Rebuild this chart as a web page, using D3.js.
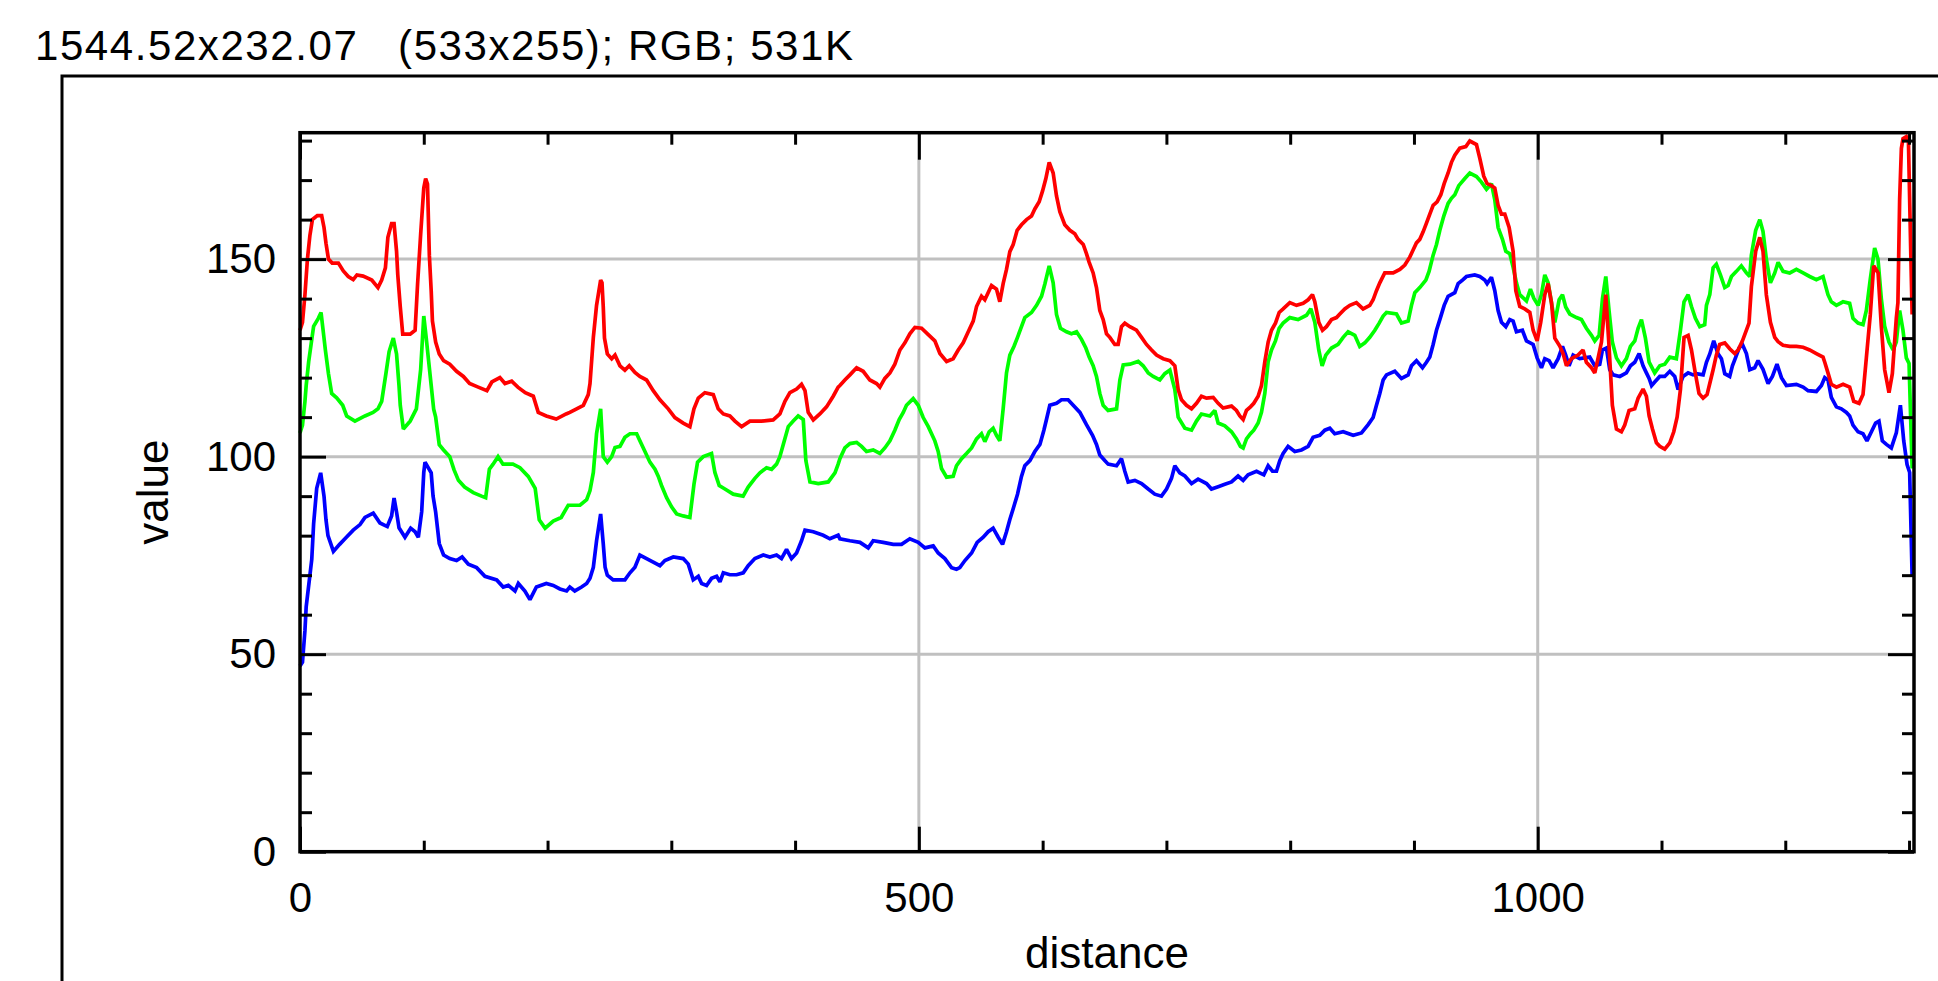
<!DOCTYPE html>
<html>
<head>
<meta charset="utf-8">
<script src="https://cdn.jsdelivr.net/npm/d3@7"></script>
<style>
  html, body { margin: 0; padding: 0; background: #ffffff; }
  svg { display: block; }
  text { font-family: "Liberation Sans", Arial, sans-serif; fill: #000; }
</style>
</head>
<body>
<svg id="chart" width="1938" height="981"></svg>
<script>
// Profile plot of the red, green and blue channels along a line.
const headerText = "1544.52x232.07   (533x255); RGB; 531K";
const xLabel = "distance";
const yLabel = "value";

const xMajorTicks = [0, 500, 1000];
const xMinorTicks = [100, 200, 300, 400, 600, 700, 800, 900, 1100, 1200, 1300];
const yMajorTicks = [0, 50, 100, 150];
const yMinorTicks = [10, 20, 30, 40, 60, 70, 80, 90, 110, 120, 130, 140, 160, 170, 180];
const xDomain = [0, 1304];
const yDomain = [0, 182];

// [distance, value]
const redProfile = [
  [0,132],[2,134],[4,141],[6,150],[8,156],[10,160],[14,161],[17.5,161],[19.4,158],[21,154],[23,150],[26,149],[31,149],[35,147],[39,145.6],[43,144.8],[46,146],[51,145.7],[58,144.7],[63,142.8],[66,144.7],[69,147.8],[71,155.5],[74,159],[76,159],[78,152],[79,146],[81,138],[83,131],[89,131],[93,132],[95,143.7],[97.5,156.4],[100,168],[101.5,170.4],[103,169],[104.5,151],[106,142],[107,134.3],[109.6,129],[112.5,126],[116,124.3],[121,123.4],[126.5,121.6],[132,120.3],[137,118.5],[144,117.6],[151,116.7],[155,118.9],[161.5,120],[165.6,118.5],[171,119.1],[176,117.6],[182,116.2],[188.5,115.3],[192.5,111.2],[199,110.3],[207,109.5],[215,110.8],
  [218,111.2],[223.5,112.1],[228.9,113],[232.9,115.7],[234.3,118.5],[237,130.2],[239.6,138.3],[242.9,144.7],[244,144],[245,138],[246,130],[248.3,126],[251.8,124.8],[254.5,125.7],[258.5,123],[262.5,121.9],[266,123],[270.6,121.3],[274.6,120.3],[280,119.4],[285.4,116.7],[290.8,114.4],[297.5,112.1],[302.9,109.9],[309.6,108.5],[315,107.6],[318.3,112.1],[321.8,114.8],[327.1,116.2],[333.9,115.7],[337.9,112.1],[342,110.8],[347.3,110.3],[351.4,109],[356.8,107.6],[363.5,109],[372.9,109],[382.3,109.3],[387.7,110.8],[391.8,114],[395.8,116.2],[401.2,117.1],[405.2,118.3],[408,116.7],[410.6,111.2],[414.7,109.3],[420,110.8],[425.4,112.6],[430.8,115.3],[434.8,117.6],
  [436.2,118],[440.2,119.4],[444.3,120.7],[449.7,122.5],[455,121.6],[460.4,119.4],[465.8,118.5],[468.5,117.6],[472.5,119.8],[476.6,121.2],[480.6,123.4],[484.7,127],[488.7,128.8],[492.7,131.1],[496.8,132.7],[502.2,132.5],[507.6,130.9],[512.9,129.3],[517,126.1],[522.4,124.1],[527.7,124.8],[531.8,127],[535.8,128.8],[539.9,131.6],[543.9,134.3],[546.6,138],[550.6,140.6],[553.3,139.7],[558.7,143.3],[562.7,142.4],[565.4,139.2],[568.1,143.8],[570.8,147.4],[573.5,151.9],[576.2,153.7],[579.4,157.3],[582.9,158.7],[587,160],[591,160.9],[593.7,162.7],[597.2,164.5],[599.9,167.2],[602.6,170.4],[605.3,174.5],[608.5,171.8],[611.2,166],[613.9,162],[617.9,158.7],[622,157.3],[626,156.4],[628.7,155],[632.8,153.7],[635.4,151.4],[637.6,149.2],[640.8,146.5],[643.5,142.8],[646.2,137],[648.9,134.7],[651.6,131.1],
  [654.3,130.2],[658.3,128.4],[661,128.4],[663.7,132.9],[666.4,133.8],[670.5,132.9],[675.8,132],[679.9,130.2],[683.9,128.4],[688,127],[692,125.7],[697.4,124.8],[702.8,124.3],[706.8,123],[709.5,117],[712.2,114.4],[716.2,113],[720.3,112.1],[724.3,113.5],[728.3,115.3],[732.4,114.8],[737.8,115],[741.8,113.5],[745.8,112.3],[752.6,112.8],[756.6,111.7],[759.3,110.3],[762,109.4],[764.7,111.7],[767.9,112.6],[770.6,113.5],[774.1,115.3],[776.8,118],[779.5,124],[782.2,129],[784.9,132],[788.1,133.8],[791.1,136.5],[794.3,137.4],[799.7,139],[805.1,138.3],[810.5,138.8],[814.5,139.7],[818,141],[819.9,139.2],[823.1,134],[826.1,132],[829.3,132.9],[833.4,134.7],[837.4,135.2],[840.1,136.1],[844.1,137.4],[848.2,138.3],[853.5,139],[858.9,137.4],[864.3,138.3],[867,139.7],[869.7,142],[872.4,144],
  [876.4,146.5],[883.2,146.5],[888.6,147.4],[892.6,148.5],[896.6,150.5],[899.3,152.3],[902,154.1],[904.7,155],[907.4,156.9],[910.1,159.1],[912.8,161.4],[915.5,163.6],[918.7,164.5],[921.7,166.3],[924.4,169.1],[927.6,171.8],[930.3,174.5],[933,176.3],[937,178.1],[941.9,178.5],[945.1,179.9],[950.5,179],[953.2,175.5],[956.4,171],[959.1,169.1],[962.6,168.6],[965.3,168],[968,163.6],[970.7,161.4],[973.4,161.4],[976.9,158],[980.1,152],[982.3,142],[985.5,138],[989.5,137.4],[993.6,136.5],[996.3,132],[999.5,129.3],[1002.4,134],[1005.7,141],[1008.4,143.8],[1011.1,139],[1013.8,130],[1017.8,128],[1020.5,126.1],[1023.2,123],[1027.2,124.8],[1032.6,125.7],[1036.6,127],[1039.3,123.9],[1043.4,122.5],[1046.1,121.2],[1048.8,125],[1051.5,129],[1055,141],[1057.6,128],[1060.3,113],[1063.6,107],[1067.6,106.3],[1070.3,108],[1073.8,111.7],[1078.4,112.1],[1081.1,114.8],[1085.1,117.1],[1087.8,115.3],[1090,110.3],
  [1092.7,107],[1095.9,103.5],[1098.6,102.6],[1102.6,101.9],[1106.7,103.5],[1109.9,106.3],[1112.6,110],[1115.3,117],[1118.2,130.2],[1121.5,130.7],[1124.2,127],[1127.4,121],[1130.3,116],[1133.6,114.8],[1136.8,115.7],[1139,118.5],[1141.7,122],[1144.3,125.7],[1147,128.4],[1151.1,128.8],[1155.1,127.3],[1159.2,126.1],[1161.9,127],[1165.4,129.3],[1168.6,132],[1170.7,133.8],[1172.6,143],[1176.1,152],[1179.4,155.5],[1182,152],[1184.7,141],[1188,134],[1191.5,130.2],[1194.2,129.1],[1198.2,128.2],[1203.6,127.9],[1209,127.9],[1214.4,127.7],[1219.7,127],[1225.1,126.1],[1230.5,125.2],[1231.9,123.9],[1234.5,121.2],[1237.2,118.3],[1241.3,117.6],[1246.7,118.3],[1252,117.6],[1255.3,114],[1259.6,113.5],[1262.8,115.7],[1265.5,125],[1268.7,136],[1271.4,148.3],[1275,146.5],[1277.6,133],[1280.3,122],[1283.8,116.2],[1286.5,121],[1289.7,135],[1291,139],[1292.4,165],[1293.8,178],[1295.1,180.5],[1297.8,181],[1299.5,180],[1301.5,150],[1302.5,136]
];

const greenProfile = [
  [0,106],[2,108],[4,114],[5,118],[7,124],[9,128.5],[11,133],[14.8,135],[17,136.5],[19.4,130],[20.5,127],[23,121],[25.6,116],[29.6,114.9],[34.5,113],[37.7,110.3],[44.4,109],[52.5,110.3],[59,111.2],[63,112.1],[66,114],[69.5,121.2],[72,126.6],[75.4,130],[78,126],[80,118],[81,113],[83.5,107],[89,109],[94,112.1],[97.5,122.1],[100,135.6],[102,130],[104,124],[106,118],[108,112],[109.6,110],[112.5,103],[116,101.7],[121,100],[124.4,96.7],[128,94],[133,92.3],[140,90.9],[146.7,90],[150,89.6],[153,96.8],[156,98.1],[160,100],[164,98.1],[172,98.1],[177.7,97.2],[184.4,95],[190,92],[193.3,84],[198,81.9],[204.6,83.7],[211,84.6],[216.7,87.7],
  [226.2,87.7],[231.6,89.1],[234.3,91.4],[237,96],[239.6,105.8],[242.9,112.1],[245,100],[248.3,98.6],[251.8,100],[254.5,102.3],[258.5,102.6],[262.5,104.9],[266.6,105.8],[272,105.8],[274.6,104],[278.7,101.3],[282.7,98.6],[286.8,96.8],[289.5,95],[292.1,92.7],[296.2,89.6],[300.2,87.3],[304.3,85.5],[309.6,85],[315,84.6],[318.3,93],[321.2,98.6],[325.8,100],[332.5,100.8],[335.2,96],[338.7,92.7],[343.3,91.8],[350,90.5],[358,90],[362.1,92.3],[367.5,94.5],[371.6,95.9],[376.9,97.2],[381,96.8],[385,98.1],[387.7,100],[390.4,103],[394.5,107.6],[398.5,109],[402.5,110.3],[406.6,109.4],[408.7,99],[412,93.6],[418.7,93.2],[426.8,93.6],[432.2,95.9],[434.8,98.1],
  [436.2,99.5],[440.2,102.2],[444.3,103.3],[449.7,103.6],[453.7,102.6],[457.7,101.3],[463.1,101.7],[468.5,100.8],[472.5,102.2],[476.6,104],[480.6,106.7],[484.1,109.4],[487.4,111.2],[490,113],[495.4,114.7],[499.5,113],[503.5,109.9],[507.6,107.6],[512.9,104],[515.6,101.3],[518.3,97],[522.4,94.8],[527.7,95],[530.4,97.7],[534.5,99.5],[538.5,100.8],[542.6,102.2],[546.6,104.5],[550.6,105.8],[553.3,103.8],[556.8,106.3],[560,107.2],[562.7,105.4],[565.4,104],[568.1,112.1],[570.8,121.2],[573.5,125.7],[576.8,127.9],[579.7,130.2],[582.9,132.9],[585.6,135.2],[591,136.5],[595.1,138.3],[599.1,140.6],[601.8,143.7],[605.3,148.3],[608.5,144],[611.2,136],[614.4,132.5],[619.3,131.6],[623.3,131.1],[627.4,131.6],[631.4,129.7],[634.9,127.5],[637.6,125.2],[640.8,123],[643.5,120.3],[646.2,116],[648.9,113],[652.9,111.7],
  [659.7,112.1],[662.4,119.4],[665.1,123.2],[670.5,123.4],[677.2,124.1],[681.2,123],[685.3,121.2],[689.3,120.3],[694.7,119.4],[698.7,121],[702.8,121.9],[706.8,117],[709.5,110],[714.9,107.2],[720.3,106.7],[724.3,109],[728.3,110.8],[735.1,110.3],[739.1,111.7],[741.8,108.5],[747.2,107.8],[752.6,106.3],[756.6,104.5],[759.8,102.6],[762,102.2],[764.7,104.5],[767.9,105.8],[770.6,106.7],[774.1,108.5],[776.8,111.2],[779.5,116],[782.2,124],[784.9,127],[788.1,129.3],[791.1,132.5],[794.3,133.8],[799.7,135.2],[806.4,134.7],[813.2,135.8],[816.7,137.4],[819.9,134],[823.1,127],[825.8,123],[828.8,125.7],[833.4,127.5],[838.7,128.4],[842.8,130.2],[846.8,131.6],[852.2,130.7],[856.2,127.9],[860.3,128.8],[864.3,130.2],[868.4,132],[871.9,133.8],
  [875.1,135.6],[877.8,136.5],[885.9,136.1],[889.9,133.8],[895.3,134.3],[898,138.3],[900.7,141.5],[904.7,142.8],[909.6,144.7],[912.2,146.9],[915.5,151],[918.2,153.7],[920.9,157.3],[924.1,160.9],[927.6,164.1],[930.3,165.4],[933,166.3],[936.2,168.6],[941.1,170.4],[945.1,171.8],[950.5,170.9],[954.5,169.5],[958.6,167.7],[962.6,169.1],[965.3,165],[968,158],[971.5,155],[974.2,152],[977.4,151.4],[980.1,148],[982.8,144],[985.5,141],[990.9,139.4],[994.1,142.4],[996.8,140.1],[1000.3,138.3],[1003,141],[1005.7,146],[1008.4,144],[1011.1,139],[1013.8,134],[1017.3,139.7],[1020,141],[1022.6,137.9],[1025.9,136.1],[1031.3,135.2],[1035.3,134.7],[1039.3,132.5],[1043.4,130.7],[1046.1,129.3],[1049.6,130.7],[1052.3,140],[1055,145.6],[1057.6,137],[1060.3,129],[1063.6,125],[1067.6,123],[1071.6,124.8],[1074.9,127.9],[1078.4,129.3],[1081.1,132.5],[1083.8,134.7],[1087,130],[1090,123.9],
  [1094.5,121.2],[1098.6,123],[1102.6,123.4],[1106.7,125.2],[1112,124.8],[1115.3,132],[1118.2,139.2],[1121.5,141],[1124.2,138],[1127.4,135],[1130.9,132.9],[1134.9,133.4],[1136.3,138.3],[1139,141],[1141.7,147.8],[1144.3,148.7],[1147.6,146],[1151.1,142.8],[1153.8,143.3],[1156.5,145.6],[1160.5,146.9],[1164.5,148.3],[1168.6,146.5],[1171.3,145.6],[1172.6,151],[1176.1,157.3],[1179.4,160],[1182,157],[1184.7,150],[1188,144],[1191.5,146.5],[1194.2,149.2],[1198.2,146.9],[1203.6,146.5],[1209,147.4],[1214.4,146.5],[1219.7,145.6],[1225.1,144.8],[1230.5,145.6],[1234.5,141],[1237.2,139.2],[1241.3,138.3],[1246.7,139.2],[1252,138.8],[1254.7,135],[1258.8,133.8],[1262.8,133.4],[1265.5,137],[1268.7,145],[1272.2,152.8],[1274.9,150],[1277.6,140],[1280.3,133],[1283.8,129],[1287.1,127],[1289.7,129],[1292.4,137],[1295.1,132],[1297.8,125],[1300,123.6],[1302.5,97]
];

const blueProfile = [
  [0,47],[2,48],[4,56],[5,62],[8,70],[9.5,74],[11,83],[13.5,92],[16.7,95.9],[19.4,90],[21,84],[22.6,80],[27,76],[32,77.8],[36.3,79.2],[43,81.4],[48.5,82.8],[52.5,84.6],[59.2,85.7],[64.6,83.2],[70.5,82.3],[74,85],[76,89.5],[78,86],[80,82],[84.8,79.6],[89.4,81.9],[93,81],[95.6,79.6],[98.3,86],[100,96],[101,98.6],[106,95.9],[107.5,90],[109.6,86],[112.5,78],[116,75.1],[121,74.2],[126.5,73.7],[131,74.6],[136,72.8],[142.7,71.9],[149.4,69.7],[158.9,68.8],[164.2,67],[168.3,67.4],[173.7,66],[176.4,67.9],[181.7,66],[185.8,63.8],[191,67],[199,67.9],[204.6,67.4],[210,66.5],[215.4,66],
  [218,67],[222,66],[227.5,67],[231.6,67.9],[234.3,69.2],[237,72],[239.6,78.7],[242.9,85.5],[245,78],[246.5,72],[248.3,70],[253,68.8],[262.5,68.8],[266.6,70.6],[270.6,72],[274.6,75.1],[280,74.2],[285.4,73.3],[290.8,72.4],[294.8,73.7],[301.6,74.6],[309.6,74.2],[313.7,72.8],[317.7,68.8],[321.8,69.7],[324.5,67.9],[328.5,67.4],[332.5,69.2],[336.6,69.7],[339.3,68.3],[342,70.6],[347.3,70.1],[352.7,70.1],[358.1,70.6],[362.1,72.4],[367.5,74.2],[374.3,75.1],[379.6,74.6],[385,75.1],[389,74.2],[393.1,76.5],[397.1,74.2],[401.2,75.6],[405.2,78.7],[408,81.4],[414.7,81],[422.7,80.1],[428.1,79.2],[434.8,80.1],
  [436.2,79.2],[444.3,78.7],[452.4,78.3],[459.1,76.9],[463.1,78.7],[471.2,78.3],[479.3,77.8],[486,77.8],[492.7,79.2],[499.5,78.3],[504.9,76.9],[511.6,77.4],[515.6,75.6],[521,74.2],[526.4,71.9],[530.4,71.5],[533.1,71.9],[537.2,73.7],[542.6,75.6],[547.1,78.3],[552,79.6],[556,81],[560,81.9],[564.1,79.6],[567.6,77.8],[570.8,81],[573.5,84.1],[576.2,86.8],[579.7,90.5],[582.9,95],[585.6,97.7],[589.7,99],[593.7,101.3],[597.8,103.1],[601,106.7],[603.1,109.4],[605.8,113],[611.2,113.5],[615.2,114.4],[620.6,114.4],[624.7,113],[630.1,111.2],[635.4,108.1],[640.3,105.4],[643.5,103.1],[646.2,100.4],[650.2,99],[652.9,98.1],
  [659.7,97.7],[663.7,99.5],[666.4,96.3],[669.1,93.6],[674.5,94],[679.9,93.2],[685.3,91.8],[690.6,90.5],[696,90],[700.1,91.8],[704.1,94.5],[706.8,97.7],[710.8,95.9],[714.9,95.1],[720.3,93.2],[725.6,94.3],[732.4,93.2],[736.4,91.8],[741.8,92.4],[747.2,93],[752.6,93.6],[757.9,95.1],[762,94],[766,95.4],[772.8,96.3],[778.7,95.4],[782.2,97.7],[785.7,96.3],[788.9,96.3],[791.6,99],[794.3,100.8],[798.3,102.6],[803.7,101.3],[809.1,101.7],[814.5,102.6],[818.5,104.9],[823.9,105.4],[828,106.7],[832,107.2],[836,105.8],[842.8,106.3],[850.9,105.4],[857.6,106],[863,108.1],[867,109.9],[869.7,113],[872.4,116],
  [875.1,119.4],[877.8,120.7],[884.5,121.6],[889.9,119.8],[895.3,120.7],[898,123],[902,124.3],[906.9,122.5],[910.1,123.9],[912.8,125.2],[915.5,128.4],[918.2,132],[921.4,135.2],[924.4,138.3],[927.6,140.6],[933,141.5],[935.7,143.8],[939.2,144.7],[942.4,145.6],[949.1,146],[953.2,145.6],[957.2,144.7],[959.1,143.8],[962.6,145.4],[965.3,142],[968,137],[970.7,134],[974.2,132.9],[977.4,134.7],[980.1,134.3],[982.8,131.6],[987.6,132],[990.9,129.3],[996.3,128.4],[999.5,125],[1003,122.5],[1005.7,124.8],[1009.2,124.3],[1012.4,122.5],[1016.5,124.8],[1020,127.9],[1022.6,125.7],[1025.3,123],[1028.6,125.7],[1033.9,124.8],[1042,125.2],[1046.1,123],[1050.1,123.4],[1052.3,127],[1055.5,127.5],[1058.2,122],[1060.9,120.7],[1066.3,120.3],[1071.6,121.2],[1074.9,123],[1078.4,123.9],[1081.9,126.1],[1085.1,123],[1087.8,121.2],[1090,119.8],
  [1092,118],[1094.5,118.9],[1098.6,120.3],[1102.6,120.3],[1106.7,121.6],[1110.7,120.3],[1113.4,117],[1117.4,120.3],[1121.5,121.2],[1125.5,120.7],[1128.2,121],[1133.6,120.7],[1136.3,123.9],[1139,126],[1142.2,129.3],[1145.7,126],[1148.4,124.8],[1151.1,121],[1155.1,120.3],[1157.3,123],[1160,125.2],[1162.7,127.5],[1165.4,128.4],[1168.6,126.1],[1171.3,122],[1175.3,122.5],[1178,124.3],[1182,122.1],[1186.1,118.5],[1189.6,120.3],[1193.3,123.4],[1196.9,120],[1200.9,118],[1209,118.3],[1214.4,117.6],[1218.4,116.7],[1225.1,116.5],[1229.2,118],[1231.9,120],[1234.5,119.4],[1237.2,115],[1241.3,112.6],[1245.3,112.1],[1249.4,111.2],[1252,110.3],[1254.7,108],[1258.8,106.3],[1262.8,105.8],[1266,104],[1269.6,106.3],[1273,108.5],[1275.7,109],[1278.4,104],[1281.7,103.1],[1285.7,102.2],[1289.7,106],[1293,113],[1295.7,104],[1298.4,98],[1300.5,96],[1302.5,69.6]
];

const seriesList = [
  { name: "blue",  color: "#0000ff", values: blueProfile },
  { name: "green", color: "#00ff00", values: greenProfile },
  { name: "red",   color: "#ff0000", values: redProfile }
];

const svg = d3.select("#chart");
const plot = { left: 300, right: 1914, top: 132.7, bottom: 851.7 };

const x = d3.scaleLinear().domain(xDomain).range([plot.left, plot.right]);
const y = d3.scaleLinear().domain(yDomain).range([plot.bottom, plot.top]);

svg.append("rect").attr("width", 1938).attr("height", 981).attr("fill", "#ffffff");

// outer window frame
svg.append("path")
  .attr("d", "M62,1000 L62,76 L2000,76")
  .attr("fill", "none").attr("stroke", "#000").attr("stroke-width", 3);

// header line (spaces kept as typed)
svg.append("text")
  .attr("x", 35).attr("y", 60)
  .attr("font-size", 42)
  .attr("xml:space", "preserve")
  .style("white-space", "pre")
  .attr("textLength", 818)
  .attr("lengthAdjust", "spacing")
  .text(headerText);

// grid
const grid = svg.append("g");
grid.selectAll("line.h").data([50, 100, 150]).join("line")
  .attr("x1", plot.left).attr("x2", plot.right)
  .attr("y1", d => y(d)).attr("y2", d => y(d))
  .attr("stroke", "#c0c0c0").attr("stroke-width", 3);
grid.selectAll("line.v").data([500, 1000]).join("line")
  .attr("x1", d => x(d)).attr("x2", d => x(d))
  .attr("y1", plot.top).attr("y2", plot.bottom)
  .attr("stroke", "#c0c0c0").attr("stroke-width", 3);

// profile lines
const line = d3.line().x(d => x(d[0])).y(d => y(d[1]));
svg.append("g").selectAll("path").data(seriesList).join("path")
  .attr("d", d => line(d.values))
  .attr("fill", "none")
  .attr("stroke", d => d.color)
  .attr("stroke-width", 3.7)
  .attr("stroke-linejoin", "miter")
  .attr("stroke-miterlimit", 2);

// axes with inward-pointing ticks on all four sides
function styleAxis(g) {
  g.select(".domain").remove();
  g.selectAll(".tick line").attr("stroke", "#000").attr("stroke-width", 3);
  g.selectAll(".tick text")
    .attr("font-family", "'Liberation Sans', Arial, sans-serif")
    .attr("font-size", 42).attr("fill", "#000");
}
const fmt = d3.format("d");
const none = () => "";

svg.append("g").attr("transform", `translate(0,${plot.bottom})`)
  .call(d3.axisBottom(x).tickValues(xMajorTicks).tickSizeInner(-25).tickSizeOuter(0).tickPadding(30).tickFormat(fmt))
  .call(styleAxis);
svg.append("g").attr("transform", `translate(0,${plot.bottom})`)
  .call(d3.axisBottom(x).tickValues(xMinorTicks).tickSizeInner(-11).tickSizeOuter(0).tickFormat(none))
  .call(styleAxis);
svg.append("g").attr("transform", `translate(0,${plot.top})`)
  .call(d3.axisTop(x).tickValues(xMajorTicks).tickSizeInner(-27).tickSizeOuter(0).tickFormat(none))
  .call(styleAxis);
svg.append("g").attr("transform", `translate(0,${plot.top})`)
  .call(d3.axisTop(x).tickValues(xMinorTicks).tickSizeInner(-12).tickSizeOuter(0).tickFormat(none))
  .call(styleAxis);

svg.append("g").attr("transform", `translate(${plot.left},0)`)
  .call(d3.axisLeft(y).tickValues(yMajorTicks).tickSizeInner(-26).tickSizeOuter(0).tickPadding(24).tickFormat(fmt))
  .call(styleAxis);
svg.append("g").attr("transform", `translate(${plot.left},0)`)
  .call(d3.axisLeft(y).tickValues(yMinorTicks).tickSizeInner(-12).tickSizeOuter(0).tickFormat(none))
  .call(styleAxis);
svg.append("g").attr("transform", `translate(${plot.right},0)`)
  .call(d3.axisRight(y).tickValues(yMajorTicks).tickSizeInner(-26).tickSizeOuter(0).tickFormat(none))
  .call(styleAxis);
svg.append("g").attr("transform", `translate(${plot.right},0)`)
  .call(d3.axisRight(y).tickValues(yMinorTicks).tickSizeInner(-12).tickSizeOuter(0).tickFormat(none))
  .call(styleAxis);

// plot frame
svg.append("rect")
  .attr("x", plot.left).attr("y", plot.top)
  .attr("width", plot.right - plot.left).attr("height", plot.bottom - plot.top)
  .attr("fill", "none").attr("stroke", "#000").attr("stroke-width", 3.5);

// axis titles
svg.append("text")
  .attr("x", (plot.left + plot.right) / 2).attr("y", 968)
  .attr("text-anchor", "middle").attr("font-size", 44)
  .text(xLabel);
svg.append("text")
  .attr("transform", `translate(168,${(plot.top + plot.bottom) / 2}) rotate(-90)`)
  .attr("text-anchor", "middle").attr("font-size", 44)
  .text(yLabel);
</script>
</body>
</html>
